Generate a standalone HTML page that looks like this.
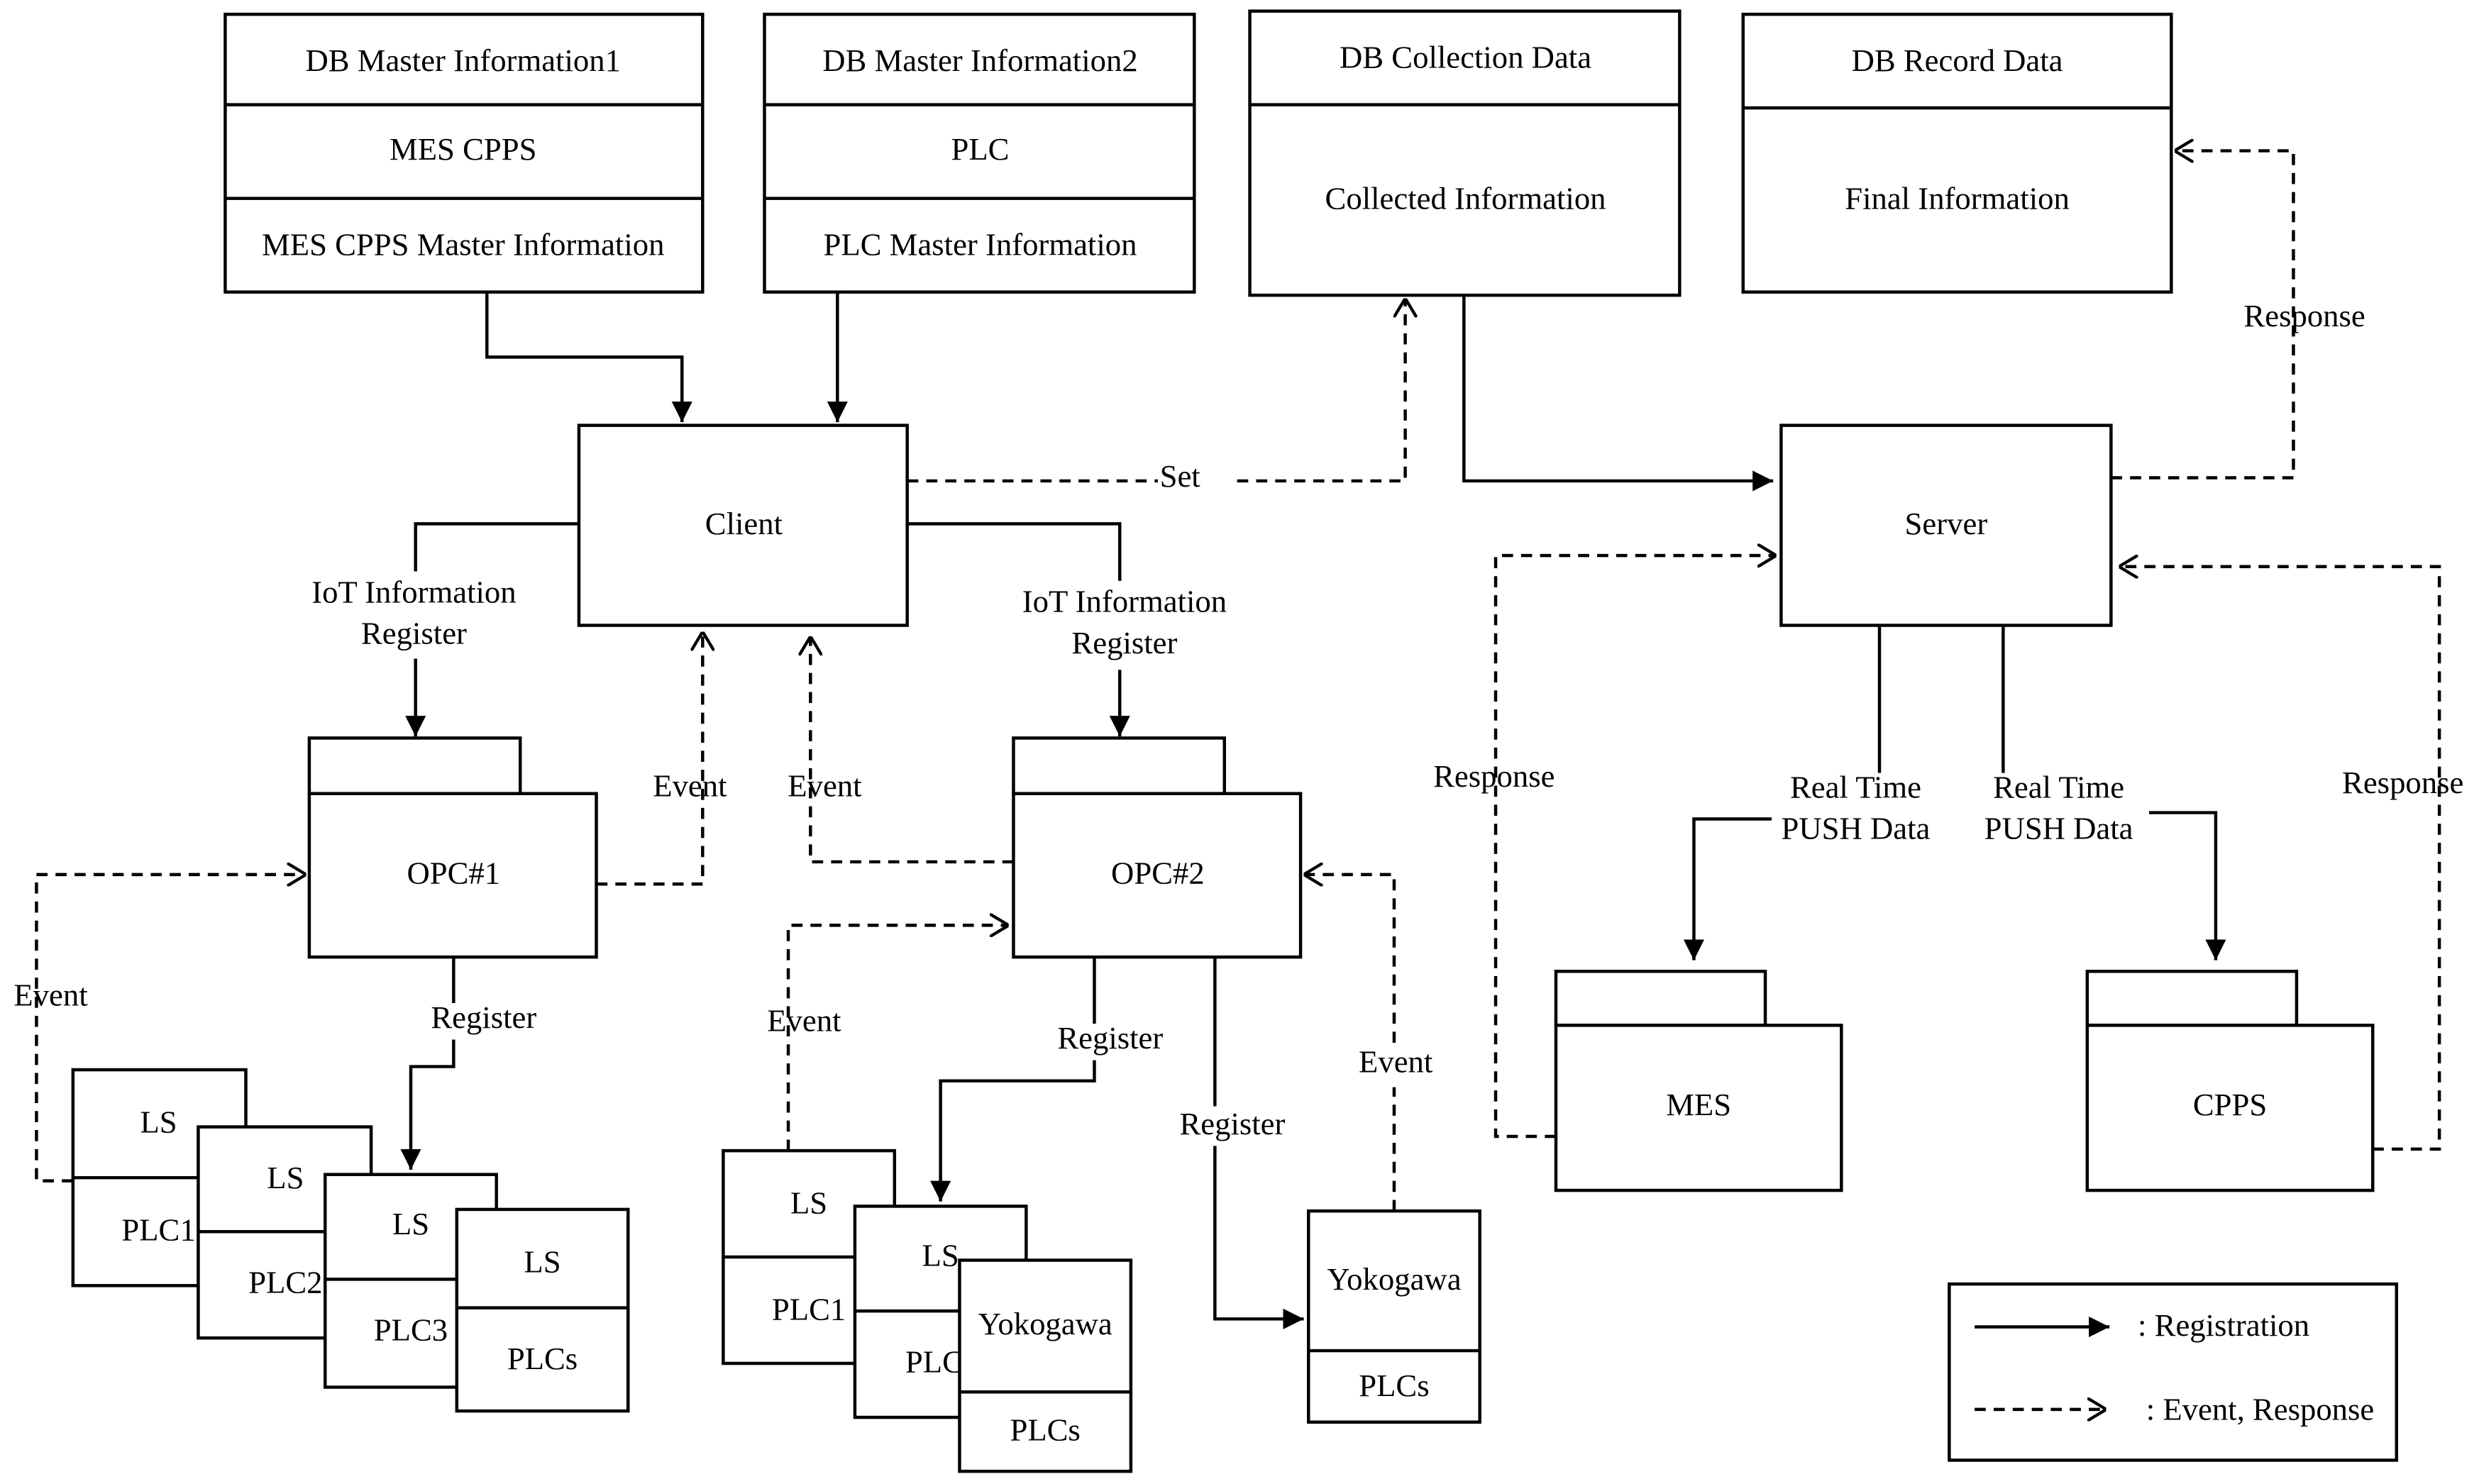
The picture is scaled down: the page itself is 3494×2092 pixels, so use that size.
<!DOCTYPE html>
<html><head><meta charset="utf-8"><style>html,body{margin:0;padding:0;background:#fff}svg{display:block}</style></head><body>
<svg width="3494" height="2092" viewBox="0 0 1563 935" preserveAspectRatio="none" xmlns="http://www.w3.org/2000/svg">
<defs>
<marker id="f" viewBox="0 0 10 10" refX="10" refY="5" markerWidth="13" markerHeight="13" orient="auto" markerUnits="userSpaceOnUse"><path d="M0,0 L10,5 L0,10 z" fill="#000"/></marker>
<marker id="o" viewBox="0 0 10 12" refX="10" refY="6" markerWidth="12" markerHeight="15" orient="auto" markerUnits="userSpaceOnUse"><path d="M0,0 L10,6 L0,12" fill="none" stroke="#000" stroke-width="1.6"/></marker>
</defs>
<style>
rect,path.s{fill:#fff;stroke:#000;stroke-width:2}
.l{fill:none;stroke:#000;stroke-width:2}
.d{fill:none;stroke:#000;stroke-width:2;stroke-dasharray:7,5}
text{font-family:"Liberation Serif",serif;font-size:20px;text-anchor:middle;dominant-baseline:middle;fill:#000}
</style>
<rect x="142" y="9" width="301" height="175"/><path class="l" d="M142,66H443M142,125H443"/>
<text x="292" y="40">DB Master Information1</text><text x="292" y="96">MES CPPS</text><text x="292" y="156">MES CPPS Master Information</text>
<rect x="482" y="9" width="271" height="175"/><path class="l" d="M482,66H753M482,125H753"/>
<text x="618" y="40">DB Master Information2</text><text x="618" y="96">PLC</text><text x="618" y="156">PLC Master Information</text>
<rect x="788" y="7" width="271" height="179"/><path class="l" d="M788,66H1059"/>
<text x="924" y="38">DB Collection Data</text><text x="924" y="127">Collected Information</text>
<rect x="1099" y="9" width="270" height="175"/><path class="l" d="M1099,68H1369"/>
<text x="1234" y="40">DB Record Data</text><text x="1234" y="127">Final Information</text>
<rect x="365" y="268" width="207" height="126"/><text x="469" y="332">Client</text>
<rect x="1123" y="268" width="208" height="126"/><text x="1227" y="332">Server</text>
<path class="l" d="M307,184V225H430V266" marker-end="url(#f)"/>
<path class="l" d="M528,184V266" marker-end="url(#f)"/>
<path class="d" d="M572,303H730"/><text x="744" y="302">Set</text>
<path class="d" d="M780,303H886V188" marker-end="url(#o)"/>
<path class="l" d="M923,186V303H1118" marker-end="url(#f)"/>
<path class="d" d="M1331,301H1446V95H1371" marker-end="url(#o)"/>
<text x="1453" y="201">Response</text>
<path class="l" d="M365,330H262V360"/><text x="261" y="375">IoT Information</text><text x="261" y="401">Register</text>
<path class="l" d="M262,415V464" marker-end="url(#f)"/>
<path class="l" d="M572,330H706V366"/><text x="709" y="381">IoT Information</text><text x="709" y="407">Register</text>
<path class="l" d="M706,422V464" marker-end="url(#f)"/>
<rect x="195" y="465" width="133" height="35"/><rect x="195" y="500" width="181" height="103"/><text x="286" y="552">OPC#1</text>
<rect x="639" y="465" width="133" height="35"/><rect x="639" y="500" width="181" height="103"/><text x="730" y="552">OPC#2</text>
<rect x="981" y="612" width="132" height="34"/><rect x="981" y="646" width="180" height="104"/><text x="1071" y="698">MES</text>
<rect x="1316" y="612" width="132" height="34"/><rect x="1316" y="646" width="180" height="104"/><text x="1406" y="698">CPPS</text>
<path class="d" d="M376,557H443V398" marker-end="url(#o)"/><text x="435" y="497">Event</text>
<path class="d" d="M639,543H511V401" marker-end="url(#o)"/><text x="520" y="497">Event</text>
<path class="d" d="M981,716H943V350H1120" marker-end="url(#o)"/><text x="942" y="491">Response</text>
<path class="d" d="M1496,724H1538V357H1336" marker-end="url(#o)"/><text x="1515" y="495">Response</text>
<path class="l" d="M1185,394V487"/><text x="1170" y="498">Real Time</text><text x="1170" y="524">PUSH Data</text>
<path class="l" d="M1117,516H1068V605" marker-end="url(#f)"/>
<path class="l" d="M1263,394V487"/><text x="1298" y="498">Real Time</text><text x="1298" y="524">PUSH Data</text>
<path class="l" d="M1355,512H1397V605" marker-end="url(#f)"/>
<path class="l" d="M286,603V632"/><text x="305" y="643">Register</text>
<path class="l" d="M286,655V672H259V737" marker-end="url(#f)"/>
<path class="d" d="M46,744H23V551H193" marker-end="url(#o)"/><text x="32" y="629">Event</text>
<rect x="46" y="674" width="109" height="136"/><path class="l" d="M46,742H155"/><text x="100" y="709">LS</text><text x="100" y="777">PLC1</text>
<rect x="125" y="710" width="109" height="133"/><path class="l" d="M125,776H234"/><text x="180" y="744">LS</text><text x="180" y="810">PLC2</text>
<rect x="205" y="740" width="108" height="134"/><path class="l" d="M205,806H313"/><text x="259" y="773">LS</text><text x="259" y="840">PLC3</text>
<rect x="288" y="762" width="108" height="127"/><path class="l" d="M288,824H396"/><text x="342" y="797">LS</text><text x="342" y="858">PLCs</text>
<path class="d" d="M497,725V583H636" marker-end="url(#o)"/><text x="507" y="645">Event</text>
<path class="l" d="M690,603V645"/><text x="700" y="656">Register</text>
<path class="l" d="M690,668V681H593V757" marker-end="url(#f)"/>
<path class="l" d="M766,603V697"/><text x="777" y="710">Register</text>
<path class="l" d="M766,722V831H822" marker-end="url(#f)"/>
<path class="d" d="M879,763V685"/><text x="880" y="671">Event</text>
<path class="d" d="M879,657V551H822" marker-end="url(#o)"/>
<rect x="456" y="725" width="108" height="134"/><path class="l" d="M456,792H564"/><text x="510" y="760">LS</text><text x="510" y="827">PLC1</text>
<rect x="539" y="760" width="108" height="133"/><path class="l" d="M539,826H647"/><text x="593" y="793">LS</text><text x="593" y="860">PLCs</text>
<rect x="605" y="794" width="108" height="133"/><path class="l" d="M605,877H713"/><text x="659" y="836">Yokogawa</text><text x="659" y="903">PLCs</text>
<rect x="825" y="763" width="108" height="133"/><path class="l" d="M825,851H933"/><text x="879" y="808">Yokogawa</text><text x="879" y="875">PLCs</text>
<rect x="1229" y="809" width="282" height="111"/>
<path class="l" d="M1245,836H1330" marker-end="url(#f)"/><text x="1402" y="837">: Registration</text>
<path class="d" d="M1245,888H1328" marker-end="url(#o)"/><text x="1425" y="890">: Event, Response</text>
</svg>
</body></html>
